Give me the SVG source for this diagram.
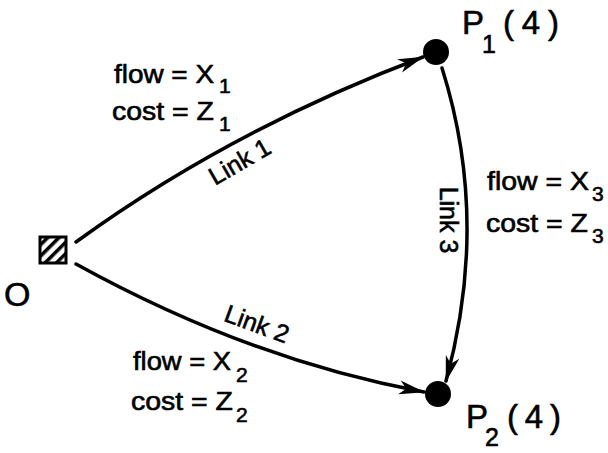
<svg xmlns="http://www.w3.org/2000/svg" width="608" height="453" viewBox="0 0 608 453">
<style>
text{font-family:"Liberation Sans","DejaVu Sans",sans-serif;fill:#000;stroke:#000;stroke-width:0.6}
.lab{font-size:25px}
.sub{font-size:21px}
.big{font-size:33px}
.sub2{font-size:25px}
.link{font-size:25px}
.edge{fill:none;stroke:#000;stroke-width:3.5;stroke-linecap:round}
</style>
<defs>
<marker id="arr" markerUnits="userSpaceOnUse" markerWidth="30" markerHeight="16" viewBox="-26 -8 28 16" refX="0" refY="0" orient="auto">
<path d="M1,0 L-25,-7 L-18,0 L-25,7 Z" fill="#000"/>
</marker>
<pattern id="hatch" patternUnits="userSpaceOnUse" width="8" height="8" patternTransform="rotate(45)">
<rect x="0" y="0" width="3.5" height="8" fill="#000"/>
</pattern>
</defs>
<g id="connectors">
<path class="edge" d="M76,242 Q230,130 423,57" marker-end="url(#arr)"/>
<path class="edge" d="M76,264 Q250,360 424,392" marker-end="url(#arr)"/>
<path class="edge" d="M442,68 Q490,220 446,381" marker-end="url(#arr)"/>
</g>
<g id="node-O">
<rect x="40" y="237" width="26" height="26" fill="url(#hatch)" stroke="#000" stroke-width="3"/>
<text x="4" y="306" style="font-size:34px">O</text>
</g>
<g id="node-P1">
<circle cx="436" cy="52" r="13" fill="#000"/>
<text class="big" x="462" y="34">P</text>
<text class="sub2" x="482" y="53">1</text>
<text class="big" x="503" y="34" textLength="56" lengthAdjust="spacing">(4)</text>
</g>
<g id="node-P2">
<circle cx="438" cy="394" r="13" fill="#000"/>
<text class="big" x="466" y="428">P</text>
<text class="sub2" x="485" y="446">2</text>
<text class="big" x="507" y="428" textLength="54" lengthAdjust="spacing">(4)</text>
</g>
<g id="labels-link1">
<text class="lab" x="114" y="83" textLength="100" lengthAdjust="spacingAndGlyphs">flow = X</text>
<text class="sub" x="219" y="93">1</text>
<text class="lab" x="112" y="120" textLength="102" lengthAdjust="spacingAndGlyphs">cost = Z</text>
<text class="sub" x="219" y="131">1</text>
<text class="link" transform="translate(244,169) rotate(-30)" text-anchor="middle">Link 1</text>
</g>
<g id="labels-link2">
<text class="lab" x="133" y="370" textLength="98" lengthAdjust="spacingAndGlyphs">flow = X</text>
<text class="sub" x="236" y="382">2</text>
<text class="lab" x="131" y="410" textLength="102" lengthAdjust="spacingAndGlyphs">cost = Z</text>
<text class="sub" x="236" y="422">2</text>
<text class="link" transform="translate(254,332) rotate(20)" text-anchor="middle">Link 2</text>
</g>
<g id="labels-link3">
<text class="lab" x="487" y="190" textLength="102" lengthAdjust="spacingAndGlyphs">flow = X</text>
<text class="sub" x="592" y="201">3</text>
<text class="lab" x="486" y="232" textLength="102" lengthAdjust="spacingAndGlyphs">cost = Z</text>
<text class="sub" x="592" y="243">3</text>
<text class="link" transform="translate(440,220) rotate(90)" text-anchor="middle">Link 3</text>
</g>
</svg>
